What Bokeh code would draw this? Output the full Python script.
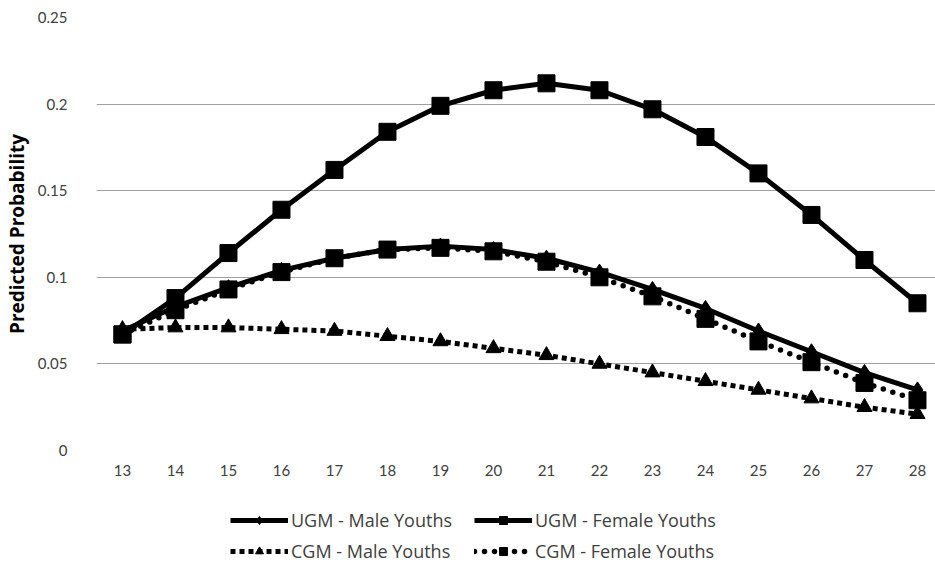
from bokeh.plotting import figure
from bokeh.layouts import column
from bokeh.models import Range1d, FixedTicker, Legend, LegendItem, ColumnDataSource
from bokeh.embed import file_html
from bokeh.resources import INLINE

ages = [13, 14, 15, 16, 17, 18, 19, 20, 21, 22, 23, 24, 25, 26, 27, 28]
ugm_male = [0.069, 0.083, 0.094, 0.104, 0.111, 0.116, 0.118, 0.116, 0.111, 0.103, 0.093, 0.082, 0.069, 0.057, 0.045, 0.035]
ugm_female = [0.067, 0.088, 0.114, 0.139, 0.162, 0.184, 0.199, 0.208, 0.212, 0.208, 0.197, 0.181, 0.160, 0.136, 0.110, 0.085]
cgm_male = [0.070, 0.071, 0.071, 0.070, 0.069, 0.066, 0.063, 0.059, 0.055, 0.050, 0.045, 0.040, 0.035, 0.030, 0.025, 0.021]
cgm_female = [0.067, 0.081, 0.093, 0.103, 0.111, 0.116, 0.117, 0.115, 0.109, 0.100, 0.089, 0.076, 0.063, 0.051, 0.039, 0.029]
series_labels = ["UGM - Male Youths", "UGM - Female Youths", "CGM - Male Youths", "CGM - Female Youths"]
y_ticks = [0, 0.05, 0.1, 0.15, 0.2, 0.25]
y_labels = {0: "0", 0.05: "0.05", 0.1: "0.1", 0.15: "0.15", 0.2: "0.2", 0.25: "0.25"}

FONT = "Lato"

p = figure(width=935, height=490, output_backend="svg", toolbar_location=None,
           x_range=Range1d(12.51, 28.34), y_range=Range1d(0, 0.25),
           min_border_left=95, min_border_right=0, min_border_top=17, min_border_bottom=40)
p.outline_line_color = None
p.background_fill_color = "white"
p.border_fill_color = "white"

p.xgrid.grid_line_color = None
p.ygrid.grid_line_color = "#a0a0a0"
p.ygrid.grid_line_width = 1

p.xaxis.ticker = FixedTicker(ticks=ages)
p.yaxis.ticker = FixedTicker(ticks=y_ticks)
p.yaxis.major_label_overrides = y_labels
for ax in (p.xaxis, p.yaxis):
    ax.axis_line_color = None
    ax.major_tick_line_color = None
    ax.minor_tick_line_color = None
    ax.major_label_text_font = FONT
    ax.major_label_text_font_size = "15px"
    ax.major_label_text_color = "#404040"
p.xaxis.major_label_standoff = 8
p.yaxis.major_label_standoff = 23
p.yaxis.axis_label = "Predicted Probability"
p.yaxis.axis_label_text_font = "Open Sans"
p.yaxis.axis_label_text_font_style = "bold"
p.yaxis.axis_label_text_font_size = "19px"
p.yaxis.axis_label_text_color = "black"
p.yaxis.axis_label_standoff = 5

src = ColumnDataSource(dict(age=ages, um=ugm_male, uf=ugm_female, cm=cgm_male, cf=cgm_female))

styles = [
    dict(line=dict(line_width=5), marker="diamond", size=16),
    dict(line=dict(line_width=5), marker="square", size=17),
    dict(line=dict(line_width=5, line_dash="5 4", line_cap="butt"), marker="triangle", size=15),
    dict(line=dict(line_width=5.5, line_dash="0 10", line_cap="round"), marker="square", size=17),
]
cols = ["um", "uf", "cm", "cf"]
for c, st in zip(cols, styles):
    p.line("age", c, source=src, line_color="black", **st["line"])
    p.scatter("age", c, source=src, marker=st["marker"], size=st["size"], color="black")

# legend panel below the chart (its proxy glyphs fall outside its ranges, so only the legend shows)
lp = figure(width=935, height=86, output_backend="svg", toolbar_location=None,
            x_axis_type=None, y_axis_type=None, x_range=Range1d(0, 1), y_range=Range1d(0, 1),
            min_border=0, min_border_left=0, min_border_right=0, min_border_top=0, min_border_bottom=0)
lp.outline_line_color = None
items = {}
for lab, c, st in zip(series_labels, cols, styles):
    r1 = lp.line("age", c, source=src, line_color="black", **st["line"])
    r2 = lp.scatter("age", c, source=src, marker=st["marker"], size=st["size"] * 0.8, color="black")
    items[lab] = LegendItem(label=lab, renderers=[r1, r2], index=0)

order = ["UGM - Male Youths", "CGM - Male Youths", "UGM - Female Youths", "CGM - Female Youths"]
legend = Legend(items=[items[k] for k in order], ncols=2, location=(134, 13), padding=0, margin=0,
                spacing=7, glyph_width=58, glyph_height=20, label_standoff=3, label_width=176,
                label_text_font="Open Sans", label_text_font_size="18px", label_text_color="#404040",
                border_line_color=None, background_fill_alpha=0)
lp.add_layout(legend, "center")

layout = column(p, lp, spacing=0)
open("out.html", "w").write(file_html(layout, INLINE))
